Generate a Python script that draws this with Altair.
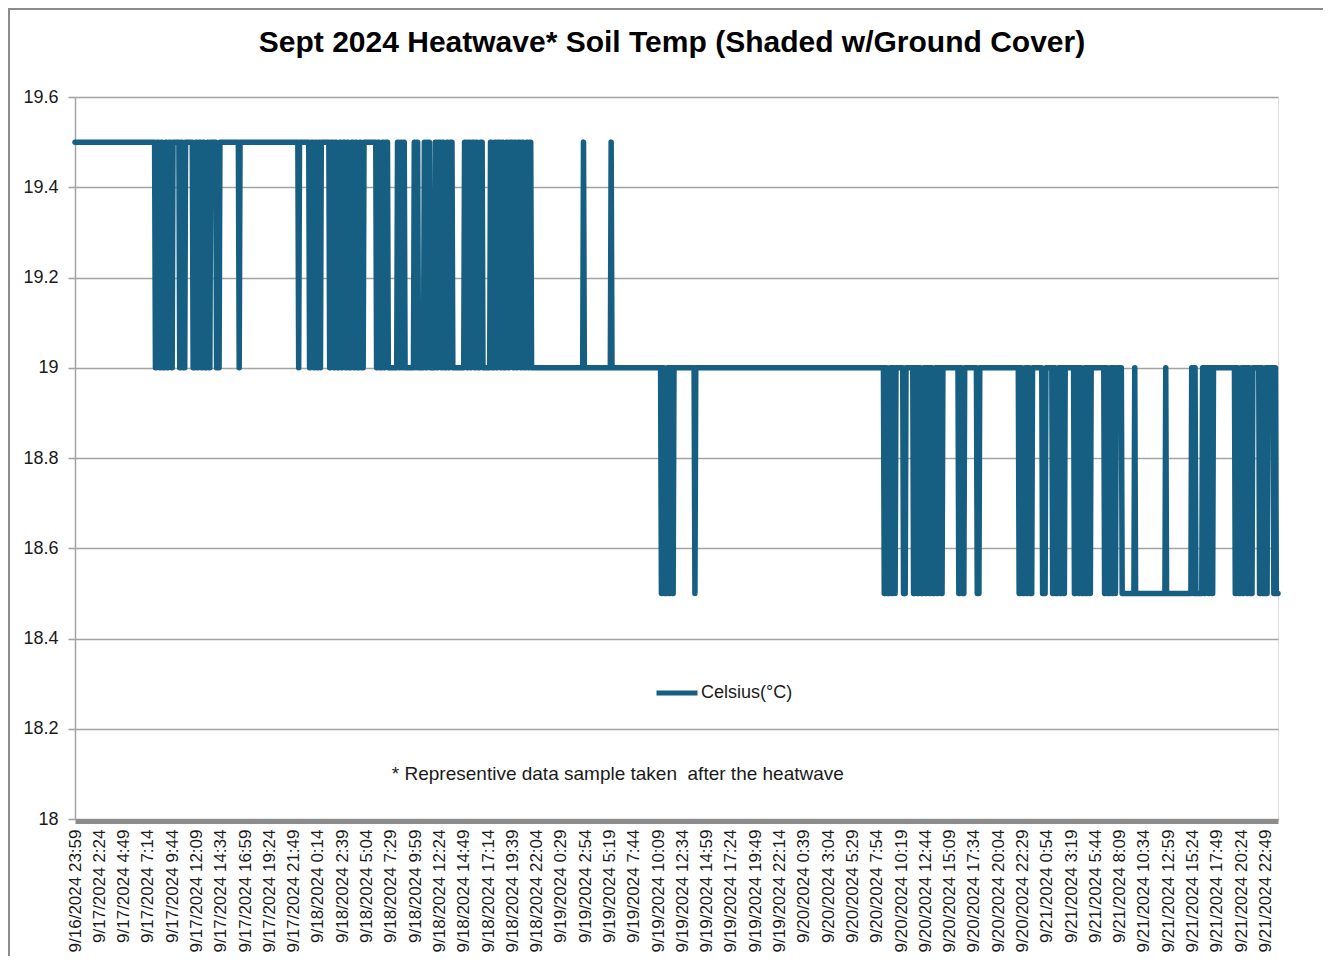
import json
import altair as alt
import pandas as pd

# ---------------- data ----------------
x_labels = [
    "9/16/2024 23:59", "9/17/2024 2:24", "9/17/2024 4:49", "9/17/2024 7:14", "9/17/2024 9:44",
    "9/17/2024 12:09", "9/17/2024 14:34", "9/17/2024 16:59", "9/17/2024 19:24", "9/17/2024 21:49",
    "9/18/2024 0:14", "9/18/2024 2:39", "9/18/2024 5:04", "9/18/2024 7:29", "9/18/2024 9:59",
    "9/18/2024 12:24", "9/18/2024 14:49", "9/18/2024 17:14", "9/18/2024 19:39", "9/18/2024 22:04",
    "9/19/2024 0:29", "9/19/2024 2:54", "9/19/2024 5:19", "9/19/2024 7:44", "9/19/2024 10:09",
    "9/19/2024 12:34", "9/19/2024 14:59", "9/19/2024 17:24", "9/19/2024 19:49", "9/19/2024 22:14",
    "9/20/2024 0:39", "9/20/2024 3:04", "9/20/2024 5:29", "9/20/2024 7:54", "9/20/2024 10:19",
    "9/20/2024 12:44", "9/20/2024 15:09", "9/20/2024 17:34", "9/20/2024 20:04", "9/20/2024 22:29",
    "9/21/2024 0:54", "9/21/2024 3:19", "9/21/2024 5:44", "9/21/2024 8:09", "9/21/2024 10:34",
    "9/21/2024 12:59", "9/21/2024 15:24", "9/21/2024 17:49", "9/21/2024 20:24", "9/21/2024 22:49",
]
READINGS_PER_LABEL = 29      # logger readings between two category labels
N_READINGS = 1437

y_ticks = [18.0, 18.2, 18.4, 18.6, 18.8, 19.0, 19.2, 19.4, 19.6]

# readings as runs: (temperature in °C, number of consecutive readings)
runs_a = [
    (19.5, 96),
    (19.0, 2), (19.5, 3), (19.0, 2), (19.5, 2), (19.0, 3), (19.5, 2), (19.0, 2), (19.5, 3), (19.0, 2),
    (19.5, 8),
    (19.0, 2), (19.5, 2), (19.0, 3),
    (19.5, 9),
    (19.0, 3), (19.5, 2), (19.0, 2), (19.5, 3), (19.0, 2), (19.5, 2), (19.0, 3), (19.5, 2), (19.0, 2),
    (19.5, 7), (19.0, 4),
    (19.5, 23), (19.0, 1), (19.5, 70), (19.0, 1), (19.5, 12),
    (19.0, 2), (19.5, 3), (19.0, 2), (19.5, 2), (19.0, 2), (19.5, 2), (19.0, 1),
    (19.5, 10),
]
runs_b = [
    (19.0, 2), (19.5, 3), (19.0, 2), (19.5, 2), (19.0, 3), (19.5, 2), (19.0, 2), (19.5, 3), (19.0, 2),
    (19.5, 2), (19.0, 3), (19.5, 3), (19.0, 2), (19.5, 2), (19.0, 3), (19.5, 2), (19.0, 3),
    (19.5, 15),
    (19.0, 2), (19.5, 2), (19.0, 3), (19.5, 2), (19.0, 2), (19.5, 3),
    (19.0, 11),
    (19.5, 2), (19.0, 2), (19.5, 2), (19.0, 1), (19.5, 2),
    (19.0, 11),
    (19.5, 2), (19.0, 1), (19.5, 2),
    (19.0, 7),
    (19.5, 2), (19.0, 2), (19.5, 3),
    (19.0, 6),
    (19.5, 2), (19.0, 2), (19.5, 3), (19.0, 2), (19.5, 2), (19.0, 3), (19.5, 2), (19.0, 2), (19.5, 3),
    (19.0, 14),
    (19.5, 3), (19.0, 2), (19.5, 2), (19.0, 2), (19.5, 3), (19.0, 2), (19.5, 2), (19.0, 3), (19.5, 3),
    (19.0, 9),
    (19.5, 2), (19.0, 3), (19.5, 2), (19.0, 2), (19.5, 3), (19.0, 2), (19.5, 2), (19.0, 3), (19.5, 2),
    (19.0, 2), (19.5, 4),
    (19.0, 2),
    (19.5, 2), (19.0, 2), (19.5, 3), (19.0, 2), (19.5, 2), (19.0, 3), (19.5, 2), (19.0, 2), (19.5, 2),
    (19.0, 62), (19.5, 1), (19.0, 32), (19.5, 1),
]
runs_c = [
    (19.0, 59),
    (18.5, 2), (19.0, 2), (18.5, 3), (19.0, 2), (18.5, 2), (19.0, 2), (18.5, 2),
    (19.0, 25), (18.5, 1), (19.0, 225),
]
runs_d = [
    (18.5, 2), (19.0, 2), (18.5, 3), (19.0, 2), (18.5, 2), (19.0, 2), (18.5, 1),
    (19.0, 9), (18.5, 3), (19.0, 9),
    (18.5, 2), (19.0, 3), (18.5, 2), (19.0, 2), (18.5, 3), (19.0, 2), (18.5, 2), (19.0, 3),
    (18.5, 2), (19.0, 2), (18.5, 3), (19.0, 2), (18.5, 2), (19.0, 3), (18.5, 2),
    (19.0, 19),
    (18.5, 2), (19.0, 2), (18.5, 3),
    (19.0, 15), (18.5, 3), (19.0, 47),
    (18.5, 2), (19.0, 2), (18.5, 3), (19.0, 2), (18.5, 2), (19.0, 2), (18.5, 3),
    (19.0, 12), (18.5, 4), (19.0, 8),
    (18.5, 2), (19.0, 2), (18.5, 3), (19.0, 2), (18.5, 2), (19.0, 2), (18.5, 2),
    (19.0, 11),
    (18.5, 2), (19.0, 3), (18.5, 2), (19.0, 2), (18.5, 3), (19.0, 2), (18.5, 2), (19.0, 2), (18.5, 2),
    (19.0, 16),
    (18.5, 2), (19.0, 2), (18.5, 3), (19.0, 2), (18.5, 2), (19.0, 2), (18.5, 1),
    (19.0, 7),
]
runs_e = [
    (18.5, 15), (19.0, 1), (18.5, 36), (19.0, 1), (18.5, 30),
    (19.0, 2), (18.5, 2), (19.0, 1), (18.5, 8),
    (19.0, 2), (18.5, 2), (19.0, 3), (18.5, 2), (19.0, 2), (18.5, 2), (19.0, 2),
    (19.0, 24),
    (18.5, 2), (19.0, 2), (18.5, 3), (19.0, 2), (18.5, 2), (19.0, 3), (18.5, 2), (19.0, 2), (18.5, 3),
    (19.0, 8),
    (18.5, 2), (19.0, 2), (18.5, 3), (19.0, 1), (18.5, 2),
    (19.0, 7), (18.5, 2), (19.0, 1), (18.5, 3),
]

series_name = "Celsius(°C)"
title_text = "Sept 2024 Heatwave* Soil Temp (Shaded w/Ground Cover)"
note_text = "* Representive data sample taken\u00a0 after the heatwave"
note_reading = 648
note_temp = 18.1

# ---------------- build table ----------------
temps = []
for runs in (runs_a, runs_b, runs_c, runs_d, runs_e):
    for level, count in runs:
        temps.extend([level] * count)
df = pd.DataFrame({"reading": list(range(len(temps))), "temp": temps, "series": series_name})

# ---------------- styling ----------------
LINE = "#175f82"
GRID = "#a3a3a3"
FONT = "Liberation Sans"

W, H = 1203, 722
PAD = {"left": 67, "top": 89, "right": 45, "bottom": 137}

tick_vals = [i * READINGS_PER_LABEL for i in range(len(x_labels))]
label_expr = json.dumps(x_labels) + "[round(datum.value / %d)]" % READINGS_PER_LABEL

line = alt.Chart(df).mark_line(strokeWidth=5.5, strokeCap="round", strokeJoin="round").encode(
    x=alt.X(
        "reading:Q",
        scale=alt.Scale(domain=[0, N_READINGS - 1], nice=False, zero=False),
        axis=alt.Axis(
            values=tick_vals, tickCount=len(tick_vals) + 10, labelExpr=label_expr,
            labelAngle=270, labelFont=FONT, labelFontSize=17, labelColor="#1a1a1a",
            labelPadding=8, labelOverlap=False, labelBound=False, ticks=False, grid=False,
            domainColor="#8c8c8c", domainWidth=5, offset=2, title=None,
        ),
    ),
    y=alt.Y(
        "temp:Q",
        scale=alt.Scale(domain=[18, 19.6], nice=False, zero=False),
        axis=alt.Axis(
            values=y_ticks, labelExpr="'' + round(datum.value * 10) / 10", labelFont=FONT,
            labelFontSize=18, labelColor="#1a1a1a", labelPadding=10, grid=True,
            gridColor=GRID, gridWidth=1.6, tickColor=GRID, tickSize=7, tickWidth=1.6,
            domainColor=GRID, domainWidth=1.5, title=None,
        ),
    ),
    color=alt.Color(
        "series:N",
        scale=alt.Scale(range=[LINE]),
        legend=alt.Legend(
            title=None, orient="none", legendX=579, legendY=573, symbolType="stroke",
            symbolSize=1681, symbolStrokeWidth=5, labelFont=FONT, labelFontSize=18,
            labelColor="#1a1a1a", labelOffset=1, padding=0,
        ),
    ),
)

note = alt.Chart(pd.DataFrame({"reading": [note_reading], "temp": [note_temp], "text": [note_text]})).mark_text(
    font=FONT, fontSize=19, color="#1a1a1a", align="center", baseline="middle"
).encode(x="reading:Q", y="temp:Q", text="text:N")

small = pd.DataFrame({"text": [title_text]})
title = alt.Chart(small).mark_text(
    font=FONT, fontSize=30, fontWeight="bold", color="#000000", align="center", baseline="middle"
).encode(x=alt.value(597), y=alt.value(-54), text="text:N")

frame_top = alt.Chart(small).mark_rule(color="#8c8c8c", strokeWidth=2).encode(
    x=alt.value(-PAD["left"]), x2=alt.value(W + PAD["right"]), y=alt.value(-PAD["top"] + 1)
)
frame_left = alt.Chart(small).mark_rule(color="#8c8c8c", strokeWidth=2).encode(
    x=alt.value(-PAD["left"] + 1), y=alt.value(-PAD["top"]), y2=alt.value(H + PAD["bottom"])
)

chart = alt.layer(line, note, title, frame_top, frame_left).properties(
    width=W,
    height=H,
    padding=PAD,
    autosize=alt.AutoSizeParams(type="none"),
).configure_view(stroke=None).configure(background="white")

chart.save("out.html", embed_options={"renderer": "svg", "actions": False})
